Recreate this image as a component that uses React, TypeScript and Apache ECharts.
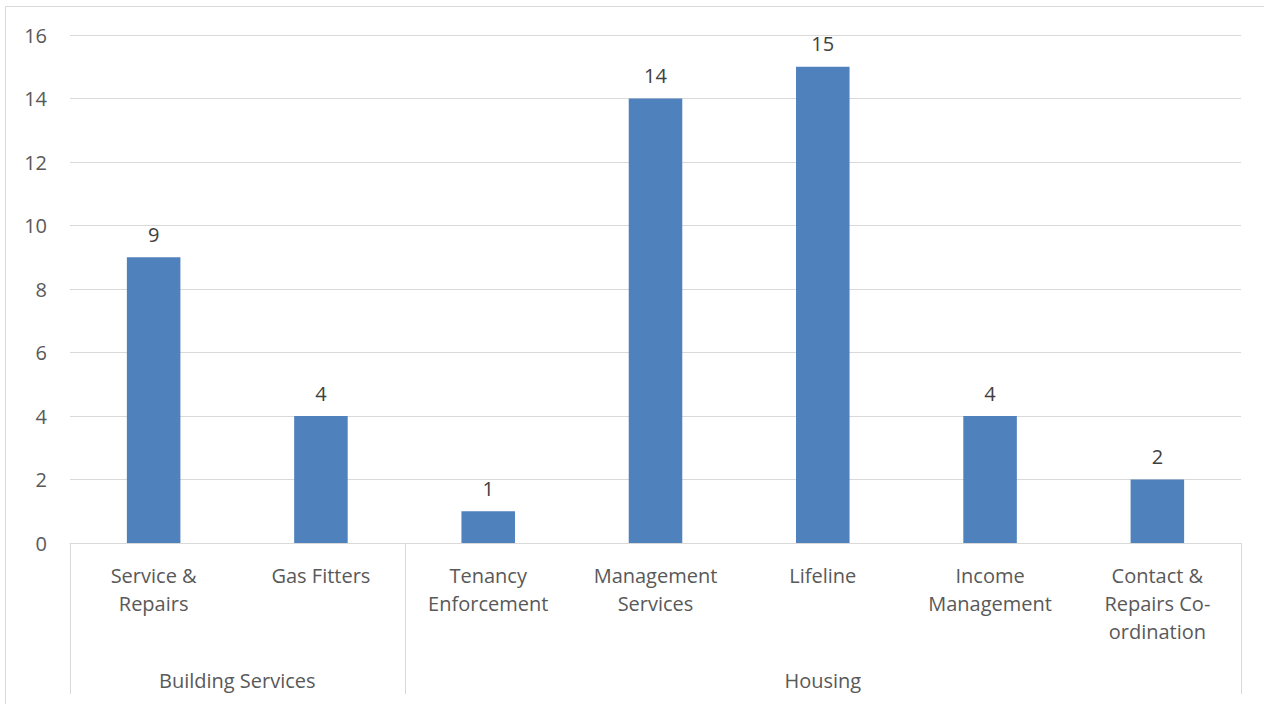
import React, { useEffect, useRef } from "react";
import * as echarts from "echarts";

const categories = [
  "Service &\nRepairs",
  "Gas Fitters",
  "Tenancy\nEnforcement",
  "Management\nServices",
  "Lifeline",
  "Income\nManagement",
  "Contact &\nRepairs Co-\nordination",
];
const values = [9, 4, 1, 14, 15, 4, 2];
const groups = ["Building Services", "Housing"];
const groupSizes = [2, 5];
const yTicks = { min: 0, max: 16, interval: 2 };

const FONT = "'Open Sans', 'Noto Sans', sans-serif";
const FS = 20;

export default function App() {
  const ref = useRef<HTMLDivElement>(null);
  useEffect(() => {
    document.body.style.margin = "0";
    const chart = echarts.init(ref.current!, null, { renderer: "svg" });
    const option: any = {
      animation: false,
      backgroundColor: "#ffffff",
      grid: { left: 70, right: 23, top: 35, bottom: 161, containLabel: false },
      xAxis: {
        type: "category",
        data: categories,
        axisLine: { show: true, lineStyle: { color: "#d9d9d9", width: 1 } },
        axisTick: { show: false },
        axisLabel: {
          color: "#595959",
          fontFamily: FONT,
          fontSize: FS,
          lineHeight: 28,
          margin: 18,
          interval: 0,
        },
      },
      yAxis: {
        type: "value",
        min: yTicks.min,
        max: yTicks.max,
        interval: yTicks.interval,
        axisLine: { show: false },
        axisTick: { show: false },
        splitLine: { lineStyle: { color: "#d9d9d9", width: 1 } },
        axisLabel: {
          color: "#595959",
          fontFamily: FONT,
          fontSize: FS,
          margin: 23,
        },
      },
      series: [
        {
          type: "bar",
          data: values,
          barWidth: "32%",
          itemStyle: { color: "#4f81bd" },
          label: {
            show: true,
            position: "top",
            distance: 13,
            color: "#404040",
            fontFamily: FONT,
            fontSize: FS,
          },
        },
      ],
    };
    chart.setOption(option);

    const graphics: any[] = [];
    const y0 = chart.convertToPixel({ yAxisIndex: 0 }, 0) as number;
    const catPx = (i: number) => chart.convertToPixel({ xAxisIndex: 0 }, i) as number;
    const step = catPx(1) - catPx(0);
    let start = 0;
    const boundaries: number[] = [catPx(0) - step / 2];
    groups.forEach((g, gi) => {
      const end = start + groupSizes[gi];
      const left = catPx(start) - step / 2;
      const right = catPx(end - 1) + step / 2;
      boundaries.push(right);
      graphics.push({
        type: "text",
        x: (left + right) / 2,
        y: 680,
        style: {
          text: g,
          fill: "#595959",
          font: `${FS}px ${FONT}`,
          textAlign: "center",
          textVerticalAlign: "middle",
        },
      });
      start = end;
    });
    boundaries.forEach((bx) => {
      graphics.push({
        type: "line",
        shape: { x1: Math.round(bx) + 0.5, y1: y0, x2: Math.round(bx) + 0.5, y2: 694 },
        style: { stroke: "#d9d9d9", lineWidth: 1 },
      });
    });
    graphics.push({
      type: "rect",
      shape: { x: 5.5, y: 6.5, width: 1264, height: 710 },
      style: { fill: "none", stroke: "#d9d9d9", lineWidth: 1 },
      silent: true,
    });
    chart.setOption({ graphic: graphics });

    return () => chart.dispose();
  }, []);
  return <div ref={ref} style={{ width: 1264, height: 704 }} />;
}
